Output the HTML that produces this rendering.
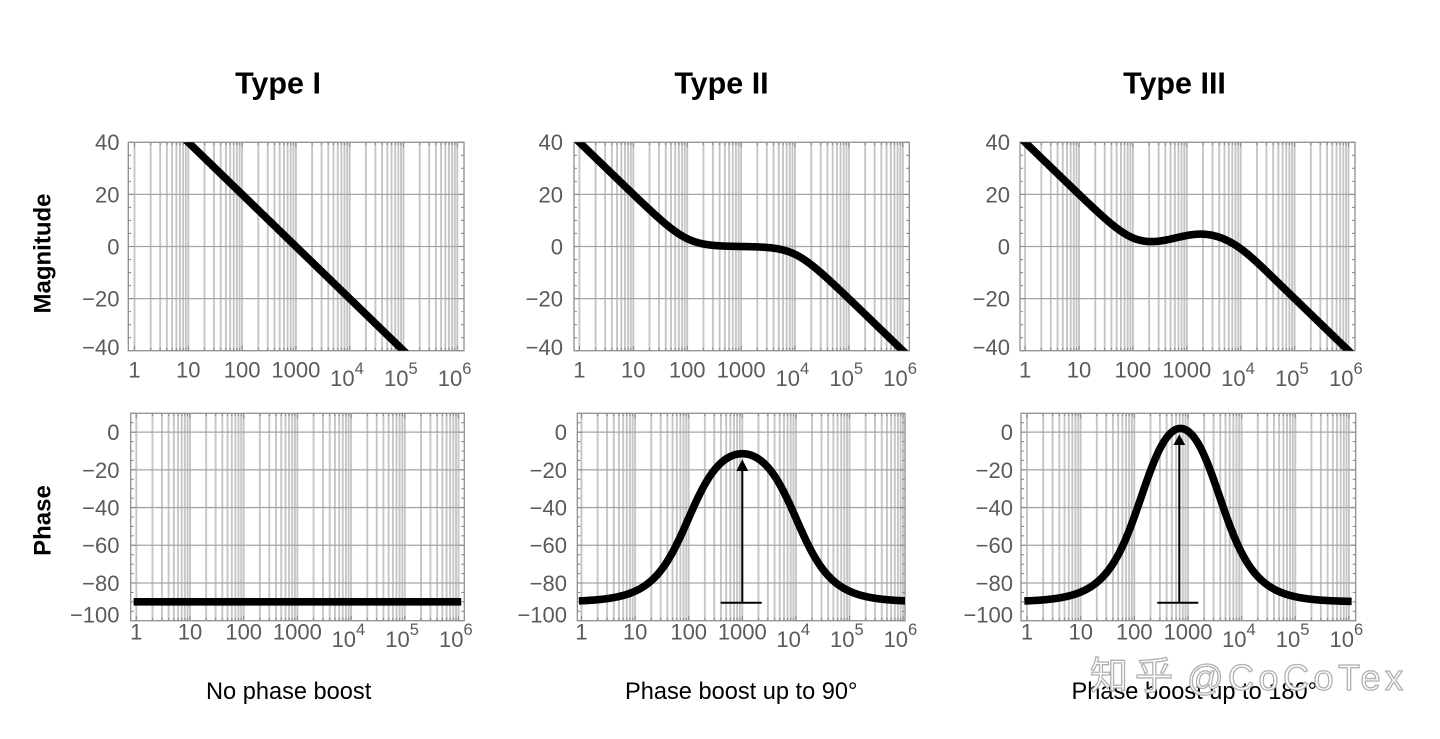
<!DOCTYPE html>
<html><head><meta charset="utf-8">
<style>
html,body{margin:0;padding:0;background:#fff;overflow:hidden;}
svg{display:block;font-family:"Liberation Sans",Arial,sans-serif;}
.tk{font-size:22px;fill:#5a5a5a;}
.ty{text-anchor:end;}
.tx{text-anchor:middle;}
.ttl{font-size:30.5px;font-weight:bold;fill:#000;text-anchor:middle;}
.ax{font-size:24px;font-weight:bold;fill:#000;text-anchor:middle;}
.cap{font-size:23.6px;fill:#000;}
</style></head>
<body>
<svg id="s" width="1440" height="739" viewBox="0 0 1440 739">
<rect width="1440" height="739" fill="#fff"/>
<g id="g"></g>

<!-- titles -->
<text class="ttl" x="278" y="93.3">Type I</text>
<text class="ttl" x="721.5" y="93.3">Type II</text>
<text class="ttl" x="1174.5" y="93.3">Type III</text>

<!-- axis labels -->
<text class="ax" transform="translate(50.5,253.5) rotate(-90)">Magnitude</text>
<text class="ax" transform="translate(50.5,520.5) rotate(-90)">Phase</text>

<!-- magnitude y labels -->
<g class="tk ty">
<text x="119.5" y="150.2">40</text><text x="119.5" y="202.3">20</text><text x="119.5" y="254.4">0</text><text x="119.5" y="306.5">−20</text><text x="119.5" y="355">−40</text>
<text x="563" y="150.2">40</text><text x="563" y="202.3">20</text><text x="563" y="254.4">0</text><text x="563" y="306.5">−20</text><text x="563" y="355">−40</text>
<text x="1010" y="150.2">40</text><text x="1010" y="202.3">20</text><text x="1010" y="254.4">0</text><text x="1010" y="306.5">−20</text><text x="1010" y="355">−40</text>
</g>
<!-- phase y labels -->
<g class="tk ty">
<text x="119.5" y="440.1">0</text><text x="119.5" y="477.8">−20</text><text x="119.5" y="515.5">−40</text><text x="119.5" y="553.2">−60</text><text x="119.5" y="590.9">−80</text><text x="119.5" y="622.5">−100</text>
<text x="567" y="440.1">0</text><text x="567" y="477.8">−20</text><text x="567" y="515.5">−40</text><text x="567" y="553.2">−60</text><text x="567" y="590.9">−80</text><text x="567" y="622.5">−100</text>
<text x="1013" y="440.1">0</text><text x="1013" y="477.8">−20</text><text x="1013" y="515.5">−40</text><text x="1013" y="553.2">−60</text><text x="1013" y="590.9">−80</text><text x="1013" y="622.5">−100</text>
</g>

<!-- magnitude x labels -->
<g class="tk tx">
<text x="134.5" y="377.5">1</text><text x="188.3" y="377.5">10</text><text x="242.1" y="377.5">100</text><text x="295.9" y="377.5">1000</text>
<text x="347" y="386">10<tspan dy="-12" font-size="16.5">4</tspan></text>
<text x="400.8" y="386">10<tspan dy="-12" font-size="16.5">5</tspan></text>
<text x="454.6" y="386">10<tspan dy="-12" font-size="16.5">6</tspan></text>

<text x="579.4" y="377.5">1</text><text x="633.3" y="377.5">10</text><text x="687.2" y="377.5">100</text><text x="741.1" y="377.5">1000</text>
<text x="792.3" y="386">10<tspan dy="-12" font-size="16.5">4</tspan></text>
<text x="846.2" y="386">10<tspan dy="-12" font-size="16.5">5</tspan></text>
<text x="900.1" y="386">10<tspan dy="-12" font-size="16.5">6</tspan></text>

<text x="1025.1" y="377.5">1</text><text x="1079" y="377.5">10</text><text x="1132.9" y="377.5">100</text><text x="1186.8" y="377.5">1000</text>
<text x="1238" y="386">10<tspan dy="-12" font-size="16.5">4</tspan></text>
<text x="1291.9" y="386">10<tspan dy="-12" font-size="16.5">5</tspan></text>
<text x="1345.8" y="386">10<tspan dy="-12" font-size="16.5">6</tspan></text>
</g>

<!-- phase x labels -->
<g class="tk tx">
<text x="136.3" y="639.5">1</text><text x="190" y="639.5">10</text><text x="243.7" y="639.5">100</text><text x="297.4" y="639.5">1000</text>
<text x="348.4" y="647">10<tspan dy="-12" font-size="16.5">4</tspan></text>
<text x="402.1" y="647">10<tspan dy="-12" font-size="16.5">5</tspan></text>
<text x="455.8" y="647">10<tspan dy="-12" font-size="16.5">6</tspan></text>

<text x="581.5" y="639.5">1</text><text x="635.1" y="639.5">10</text><text x="688.7" y="639.5">100</text><text x="742.3" y="639.5">1000</text>
<text x="793.2" y="647">10<tspan dy="-12" font-size="16.5">4</tspan></text>
<text x="846.8" y="647">10<tspan dy="-12" font-size="16.5">5</tspan></text>
<text x="900.4" y="647">10<tspan dy="-12" font-size="16.5">6</tspan></text>

<text x="1027" y="639.5">1</text><text x="1080.7" y="639.5">10</text><text x="1134.3" y="639.5">100</text><text x="1188" y="639.5">1000</text>
<text x="1238.9" y="647">10<tspan dy="-12" font-size="16.5">4</tspan></text>
<text x="1292.6" y="647">10<tspan dy="-12" font-size="16.5">5</tspan></text>
<text x="1346.3" y="647">10<tspan dy="-12" font-size="16.5">6</tspan></text>
</g>

<!-- arrows -->
<g stroke="#000" stroke-width="2" fill="none">
<line x1="742.3" y1="602.7" x2="742.3" y2="469"/>
<line x1="720.7" y1="602.7" x2="761.7" y2="602.7"/>
<line x1="1179.3" y1="602.7" x2="1179.3" y2="443"/>
<line x1="1157.3" y1="602.7" x2="1198.3" y2="602.7"/>
</g>
<polygon points="742.3,459.3 736.4,471 748.2,471" fill="#000"/>
<polygon points="1179.3,434.3 1173.4,445 1185.2,445" fill="#000"/>

<!-- captions -->
<text class="cap" x="206" y="699">No phase boost</text>
<text class="cap" x="625" y="699">Phase boost up to 90°</text>
<text class="cap" x="1071.5" y="699">Phase boost up to 180°</text>

<!-- watermark -->
<text x="1090" y="689" font-family="'Noto Sans CJK SC','WenQuanYi Zen Hei',sans-serif" font-size="38" fill="#fff" stroke="#b0b0b0" stroke-width="1.3" textLength="83" lengthAdjust="spacing">知乎</text>
<text x="1187" y="690" font-family="'Liberation Sans',Arial,sans-serif" font-size="36" fill="#fff" stroke="#b0b0b0" stroke-width="1.3" textLength="216" lengthAdjust="spacing">@CoCoTex</text>
</svg>

<script>
(function(){
var lg=function(x){return Math.log(x)/Math.LN10;};
var D=180/Math.PI;
function p10(x){return Math.pow(10,x);}
function magII(L){return 40-20*L+10*lg(1+p10(2*L-4))-10*lg(1+p10(2*L-8));}
var HM=[20,0,-20], HP=[0,-20,-40,-60,-80];
var P=[
 {x0:128.3,x1:464,y0:142.3,y1:350.7,o:134.5,d:53.8,t:40,b:-40,hg:HM,f:function(L){return 60-20*L;}},
 {x0:130.7,x1:464.3,y0:413.3,y1:620.7,o:136.3,d:53.7,t:10,b:-100,hg:HP,f:function(L){return -90;}},
 {x0:574,x1:909.3,y0:142.3,y1:350.7,o:579.4,d:53.9,t:40,b:-40,hg:HM,f:magII},
 {x0:577.3,x1:905,y0:413.3,y1:620.7,o:581.5,d:53.6,t:10,b:-100,hg:HP,f:function(L){return -90+D*(Math.atan(p10(L-2))-Math.atan(p10(L-4)));}},
 {x0:1020,x1:1355,y0:142.3,y1:350.7,o:1025.1,d:53.9,t:40,b:-40,hg:HM,f:function(L){return magII(L)+4.9*Math.exp(-(L-3.3)*(L-3.3)/0.6);}},
 {x0:1021,x1:1355.7,y0:413.3,y1:620.7,o:1027,d:53.66,t:10,b:-100,hg:HP,f:function(L){var w=p10(L);return -90+1.365*D*(Math.atan(w/144.8)-Math.atan(w/3620));}}
];
var s='';
P.forEach(function(p,i){
 var Y=function(v){return p.y0+(p.t-v)*(p.y1-p.y0)/(p.t-p.b);};
 var X=function(L){return p.o+L*p.d;};
 s+='<clipPath id="c'+i+'"><rect x="'+p.x0+'" y="'+p.y0+'" width="'+(p.x1-p.x0)+'" height="'+(p.y1-p.y0)+'"/></clipPath>';
 var g='',t='';
 for(var k=0;k<=6;k++){for(var m=1;m<=9;m++){
   if(k==6&&m>1)break;
   var x=X(k+lg(m)); if(x<=p.x0||x>=p.x1)continue;
   x=x.toFixed(2);
   g+='M'+x+' '+p.y0+'V'+p.y1;
   var len=(m==1)?5:3;
   t+='M'+x+' '+p.y0+'v'+len+'M'+x+' '+p.y1+'v'+(-len);
 }}
 s+='<path d="'+g+'" stroke="#c6c6c6" stroke-width="1.9" fill="none"/>';
 var h='';
 p.hg.forEach(function(v){h+='M'+p.x0+' '+Y(v).toFixed(2)+'H'+p.x1;});
 s+='<path d="'+h+'" stroke="#a6a6a6" stroke-width="1.3" fill="none"/>';
 for(var v=p.b;v<=p.t;v+=5){
   var y=Y(v).toFixed(2); var l2=(v%20==0)?5:3;
   t+='M'+p.x0+' '+y+'h'+l2+'M'+p.x1+' '+y+'h'+(-l2);
 }
 s+='<path d="'+t+'" stroke="#8c8c8c" stroke-width="1.1" fill="none"/>';
 s+='<rect x="'+p.x0+'" y="'+p.y0+'" width="'+(p.x1-p.x0)+'" height="'+(p.y1-p.y0)+'" fill="none" stroke="#8f8f8f" stroke-width="1.3"/>';
 var c='';
 for(var n=-5;n<=605;n++){
   var L=n/100;
   c+=(c?'L':'M')+X(L).toFixed(2)+' '+Y(p.f(L)).toFixed(2);
 }
 s+='<path d="'+c+'" clip-path="url(#c'+i+')" stroke="#000" stroke-width="7.6" fill="none" stroke-linejoin="round"/>';
});
document.getElementById('g').innerHTML=s;
})();
</script>
</body></html>
